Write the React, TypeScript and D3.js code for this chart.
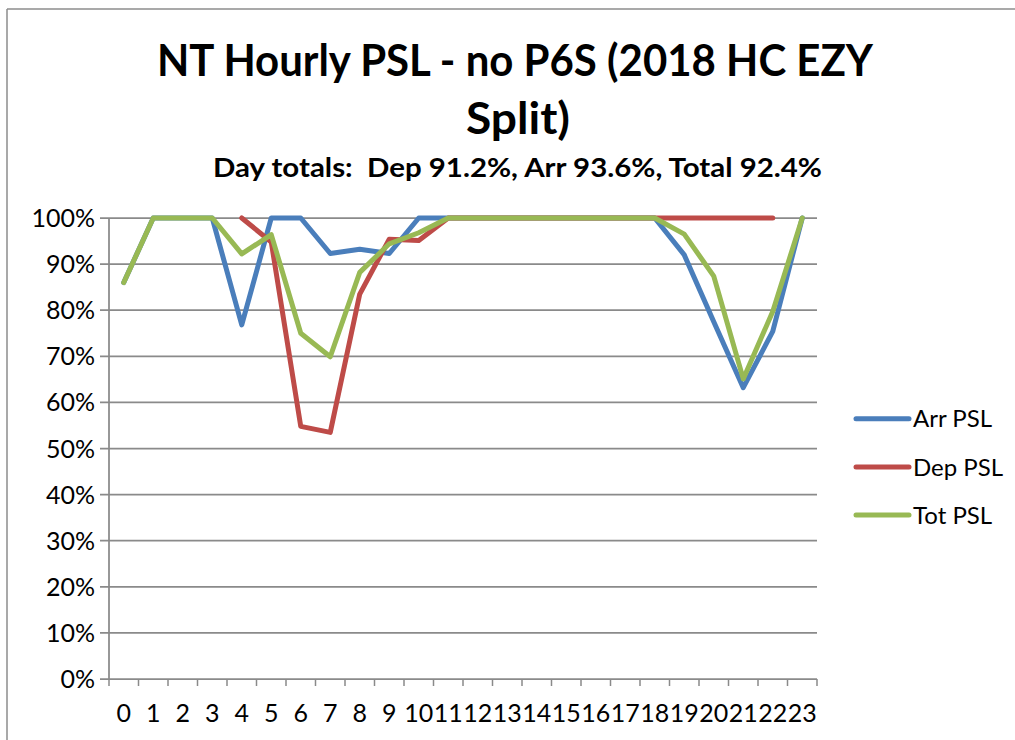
import React from 'react';
import * as d3 from 'd3';

const hours = ['0','1','2','3','4','5','6','7','8','9','10','11','12','13','14','15','16','17','18','19','20','21','22','23'];
const arrPSL: (number | null)[] = [0.86,1,1,1,0.768,1,1,0.923,0.932,0.923,1,1,1,1,1,1,1,1,1,0.92,0.775,0.632,0.754,1];
const depPSL: (number | null)[] = [null,null,null,null,1,0.948,0.548,0.535,0.835,0.954,0.951,1,1,1,1,1,1,1,1,1,1,1,1,null];
const totPSL: (number | null)[] = [0.86,1,1,1,0.922,0.964,0.75,0.699,0.882,0.944,0.968,1,1,1,1,1,1,1,1,0.965,0.874,0.651,0.797,1];
const yTicks = [0,0.1,0.2,0.3,0.4,0.5,0.6,0.7,0.8,0.9,1];

const seriesNames = ['Arr PSL','Dep PSL','Tot PSL'];
const seriesData = [arrPSL, depPSL, totPSL];
const colors = ['#4A7EBB','#BE4B48','#98B954'];

const titleLine1 = 'NT Hourly PSL - no P6S (2018 HC EZY';
const titleLine2 = 'Split)';
const subtitle = 'Day totals:  Dep 91.2%, Arr 93.6%, Total 92.4%';

const W = 1015, H = 740;
const plotL = 109, plotR = 817, plotT = 218, plotB = 679;
const font = 'Lato, "Open Sans", sans-serif';
const gridColor = '#8a8a8a';

export default function App() {
  const x = d3.scaleBand<string>().domain(hours).range([plotL, plotR]).paddingInner(0).paddingOuter(0);
  const y = d3.scaleLinear().domain([0, 1]).range([plotB, plotT]);
  const cx = (h: string) => (x(h) as number) + x.bandwidth() / 2;
  const line = d3.line<number | null>()
    .defined(d => d !== null)
    .x((_, i) => cx(hours[i]))
    .y(d => y(d as number));
  const boundaries = hours.map(h => x(h) as number).concat([plotR]);
  const fmt = d3.format('.0%');

  return (
    <div style={{ position: 'absolute', left: 0, top: 0 }}>
      <svg width={W} height={H} style={{ display: 'block', background: '#fff' }}>
        <rect x={0} y={0} width={W} height={H} fill="#fff" />
        {/* chart area border */}
        <line x1={7} y1={9} x2={W + 5} y2={9} stroke="#8c8c8c" strokeWidth={1.5} />
        <line x1={7} y1={9} x2={7} y2={H + 5} stroke="#8c8c8c" strokeWidth={1.5} />

        {/* titles */}
        <text x={515} y={76} textAnchor="middle" fontFamily={font} fontWeight={700} fontSize={43}
          textLength={716} lengthAdjust="spacingAndGlyphs" fill="#000">{titleLine1}</text>
        <text x={518} y={134} textAnchor="middle" fontFamily={font} fontWeight={700} fontSize={43}
          textLength={104} lengthAdjust="spacingAndGlyphs" fill="#000">{titleLine2}</text>
        <text x={517.5} y={177} textAnchor="middle" fontFamily={font} fontWeight={700} fontSize={27}
          textLength={609} lengthAdjust="spacingAndGlyphs" fill="#000" style={{ whiteSpace: 'pre' }}>{subtitle}</text>

        {/* gridlines and y ticks */}
        {yTicks.map(t => (
          <g key={t}>
            <line x1={plotL - 9} x2={plotR} y1={y(t)} y2={y(t)} stroke={gridColor} strokeWidth={1.75} />
            <text x={95} y={y(t)} dy="0.36em" textAnchor="end" fontFamily={font} fontSize={25} fill="#000">{fmt(t)}</text>
          </g>
        ))}
        {/* y axis */}
        <line x1={plotL} x2={plotL} y1={plotT} y2={plotB} stroke={gridColor} strokeWidth={1.75} />
        {/* x ticks */}
        {boundaries.map((b, i) => (
          <line key={i} x1={b} x2={b} y1={plotB} y2={plotB + 7} stroke={gridColor} strokeWidth={1.5} />
        ))}
        {hours.map(h => (
          <text key={h} x={cx(h)} y={722} textAnchor="middle" fontFamily={font} fontSize={25} fill="#000">{h}</text>
        ))}

        {/* series */}
        {seriesData.map((s, i) => (
          <path key={seriesNames[i]} d={line(s) || ''} fill="none" stroke={colors[i]} strokeWidth={5}
            strokeLinejoin="round" strokeLinecap="round" />
        ))}

        {/* legend */}
        {seriesNames.map((n, i) => {
          const ly = 418.7 + i * 48.2;
          return (
            <g key={n}>
              <line x1={856} x2={909} y1={ly} y2={ly} stroke={colors[i]} strokeWidth={5} strokeLinecap="round" />
              <text x={913} y={ly} dy="0.36em" fontFamily={font} fontSize={24} fill="#000">{n}</text>
            </g>
          );
        })}
      </svg>
    </div>
  );
}
